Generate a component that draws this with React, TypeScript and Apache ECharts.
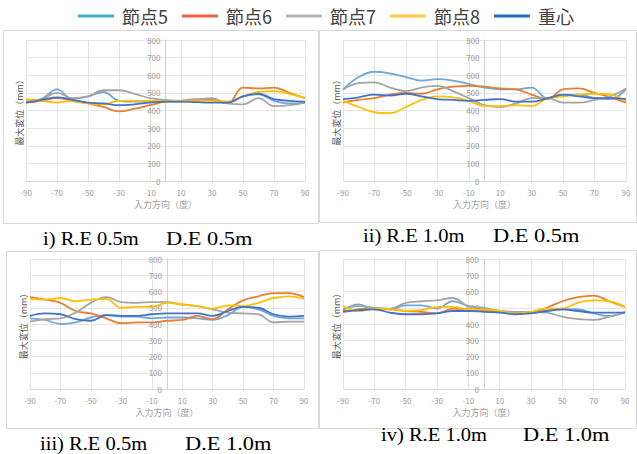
import React, { useEffect, useRef } from "react";
import * as echarts from "echarts";

// Input direction (degrees), shared by every panel
const ANGLES = [-90, -80, -70, -60, -50, -40, -30, -20, -10, 0, 10, 20, 30, 40, 50, 60, 70, 80, 90];

const SERIES_NAMES = ["節点5", "節点6", "節点7", "節点8", "重心"];
const LINE_COLORS = ["#6FA8DC", "#ED7D31", "#A5A5A5", "#FFC000", "#4472C4"];
const LEGEND_COLORS = ["#3FAFC7", "#F0623A", "#B4B4B4", "#FFC84D", "#1F6FC0"];

// Panel i) R.E 0.5m D.E 0.5m
const P1_N5 = [450, 465, 520, 465, 480, 505, 455, 450, 450, 450, 450, 455, 460, 445, 480, 492, 455, 440, 445];
const P1_N6 = [445, 455, 470, 455, 440, 420, 395, 410, 430, 450, 455, 465, 460, 440, 530, 525, 530, 500, 470];
const P1_N7 = [450, 465, 500, 470, 480, 515, 515, 495, 470, 460, 455, 462, 470, 440, 435, 470, 425, 430, 445];
const P1_N8 = [465, 455, 445, 455, 440, 435, 455, 455, 455, 455, 455, 455, 455, 450, 480, 505, 510, 495, 470];
const P1_G = [445, 460, 475, 460, 445, 440, 430, 435, 445, 450, 450, 447, 445, 445, 480, 495, 465, 455, 450];

// Panel ii) R.E 1.0m D.E 0.5m
const P2_N5 = [520, 590, 620, 610, 590, 570, 578, 570, 550, 530, 520, 520, 530, 470, 485, 490, 470, 465, 520];
const P2_N6 = [445, 460, 470, 490, 500, 495, 520, 535, 540, 535, 525, 520, 490, 465, 520, 525, 500, 475, 445];
const P2_N7 = [520, 555, 560, 530, 510, 530, 540, 510, 470, 430, 420, 440, 470, 470, 445, 445, 460, 480, 525];
const P2_N8 = [455, 420, 390, 385, 420, 460, 480, 475, 455, 425, 425, 430, 425, 470, 480, 490, 495, 490, 455];
const P2_G = [465, 475, 490, 485, 495, 480, 465, 460, 455, 460, 465, 450, 450, 470, 490, 480, 470, 470, 465];

// Panel iii) R.E 0.5m D.E 1.0m
const P3_N5 = [435, 425, 400, 410, 440, 455, 445, 445, 435, 440, 440, 435, 425, 455, 505, 490, 450, 435, 435];
const P3_N6 = [565, 550, 530, 480, 465, 435, 405, 410, 410, 420, 425, 450, 430, 490, 545, 570, 590, 590, 565];
const P3_N7 = [415, 430, 435, 470, 530, 565, 535, 530, 535, 535, 520, 510, 490, 470, 465, 460, 410, 415, 415];
const P3_N8 = [555, 550, 560, 540, 550, 555, 500, 505, 505, 530, 520, 510, 495, 515, 510, 530, 560, 570, 555];
const P3_G = [450, 465, 460, 430, 420, 455, 450, 450, 460, 465, 465, 465, 450, 480, 505, 500, 460, 445, 450];

// Panel iv) R.E 1.0m D.E 1.0m
const P4_N5 = [485, 520, 490, 490, 515, 515, 495, 540, 510, 490, 480, 470, 470, 480, 490, 490, 465, 450, 475];
const P4_N6 = [480, 490, 495, 490, 480, 475, 465, 495, 490, 485, 475, 470, 470, 500, 540, 565, 575, 540, 505];
const P4_N7 = [490, 510, 500, 495, 530, 540, 545, 560, 510, 500, 480, 475, 475, 470, 445, 430, 425, 445, 470];
const P4_N8 = [510, 480, 495, 490, 480, 485, 505, 505, 490, 490, 480, 465, 475, 495, 495, 530, 545, 540, 505];
const P4_G = [475, 485, 490, 470, 460, 460, 465, 480, 480, 475, 470, 460, 465, 480, 490, 480, 470, 470, 470];

const CAPTIONS = [
  ["i) R.E 0.5m", "D.E 0.5m"],
  ["ii) R.E 1.0m", "D.E 0.5m"],
  ["iii) R.E 0.5m", "D.E 1.0m"],
  ["iv) R.E 1.0m", "D.E 1.0m"],
];

const X_NAME = "入力方向（度）";
const Y_NAME = "最大変位（mm）";
const Y_MIN = 0;
const Y_MAX = 800;
const Y_STEP = 100;
const X_START = -90;
const X_END = 90;
const X_STEP = 20;

const PANEL_DATA = [
  [P1_N5, P1_N6, P1_N7, P1_N8, P1_G],
  [P2_N5, P2_N6, P2_N7, P2_N8, P2_G],
  [P3_N5, P3_N6, P3_N7, P3_N8, P3_G],
  [P4_N5, P4_N6, P4_N7, P4_N8, P4_G],
];

// layout (pixels)
const GRIDS = [
  { left: 26, top: 40, width: 279, height: 141 },
  { left: 343, top: 40, width: 283, height: 141 },
  { left: 30, top: 259, width: 274, height: 130 },
  { left: 343, top: 259, width: 282, height: 130 },
];
const BOXES = [
  { x: 3.5, y: 30.5, width: 315, height: 193 },
  { x: 319.5, y: 30.5, width: 317, height: 192 },
  { x: 6.5, y: 251.5, width: 312, height: 177 },
  { x: 319.5, y: 250.5, width: 317, height: 178 },
];
const CAPTION_POS = [
  { x1: 43, x2: 166, y: 238 },
  { x1: 363, x2: 493, y: 235 },
  { x1: 40, x2: 185, y: 443 },
  { x1: 381, x2: 523, y: 434 },
];

const FONT = "'Noto Sans CJK JP', 'Noto Sans', sans-serif";
const SERIF = "'Liberation Serif', 'Times New Roman', serif";

export default function App() {
  const ref = useRef<HTMLDivElement>(null);

  useEffect(() => {
    if (!ref.current) return;
    const chart = echarts.init(ref.current, null, { renderer: "svg" });

    const xAxes = GRIDS.map((g, i) => ({
      gridIndex: i,
      type: "value",
      min: 0,
      max: X_END - X_START,
      interval: X_STEP,
      axisLine: { show: true, onZero: false, lineStyle: { color: "#D9D9D9", width: 1 } },
      axisTick: { show: false },
      axisLabel: {
        color: "#9A9A9A",
        fontSize: 8,
        margin: 7,
        fontFamily: FONT,
        formatter: (v: number) => String(v + X_START),
      },
      splitLine: { show: true, lineStyle: { color: "#E4E4E4", width: 1 } },
      name: X_NAME,
      nameLocation: "middle",
      nameGap: 19,
      nameTextStyle: { color: "#A0A0A0", fontSize: 9, fontFamily: FONT },
    }));

    const yAxes = GRIDS.map((g, i) => ({
      gridIndex: i,
      type: "value",
      min: Y_MIN,
      max: Y_MAX,
      interval: Y_STEP,
      position: "left",
      offset: -g.width / 2,
      axisLine: { show: true, onZero: false, lineStyle: { color: "#D0D0D0", width: 1 } },
      axisTick: { show: false },
      axisLabel: { color: "#9A9A9A", fontSize: 8, margin: 5, fontFamily: FONT },
      splitLine: { show: true, lineStyle: { color: "#E4E4E4", width: 1 } },
      name: Y_NAME,
      nameLocation: "middle",
      nameGap: g.width / 2 + 2,
      nameTextStyle: { color: "#595959", fontSize: 9, fontFamily: FONT },
    }));

    const series: any[] = [];
    PANEL_DATA.forEach((panel, pi) => {
      panel.forEach((vals, si) => {
        series.push({
          name: SERIES_NAMES[si],
          type: "line",
          xAxisIndex: pi,
          yAxisIndex: pi,
          smooth: 0.4,
          showSymbol: false,
          symbol: "none",
          color: LINE_COLORS[si],
          lineStyle: { color: LINE_COLORS[si], width: 1.8 },
          data: ANGLES.map((a, k) => [a - X_START, vals[k]]),
          z: si === 4 ? 3 : 2,
        });
      });
    });

    const graphics: any[] = [];
    BOXES.forEach((b) => {
      graphics.push({
        type: "rect",
        shape: { x: b.x, y: b.y, width: b.width, height: b.height },
        style: { fill: "none", stroke: "#D9D9D9", lineWidth: 1 },
        z: 0,
      });
    });
    CAPTIONS.forEach((c, i) => {
      const p = CAPTION_POS[i];
      [c[0], c[1]].forEach((t, j) => {
        graphics.push({
          type: "text",
          x: j === 0 ? p.x1 : p.x2,
          y: p.y,
          scaleX: j === 0 ? 1.08 : 1.18,
          style: {
            text: t,
            fill: "#000000",
            fontSize: 19,
            fontFamily: SERIF,
            align: "left",
            verticalAlign: "middle",
          },
        });
      });
    });

    chart.setOption({
      animation: false,
      backgroundColor: "#FFFFFF",
      legend: {
        left: 73,
        top: 2,
        icon: "rect",
        itemWidth: 36,
        itemHeight: 3,
        itemGap: 14,
        textStyle: { fontSize: 18, color: "#404040", fontFamily: FONT, padding: [0, 0, 0, 3] },
        data: SERIES_NAMES.map((n, i) => ({ name: n, itemStyle: { color: LEGEND_COLORS[i] } })),
      },
      grid: GRIDS.map((g) => ({ ...g, containLabel: false })),
      xAxis: xAxes,
      yAxis: yAxes,
      series,
      graphic: graphics,
    });

    return () => chart.dispose();
  }, []);

  return (
    <div
      ref={ref}
      style={{ position: "absolute", left: 0, top: 0, width: 637, height: 454 }}
    />
  );
}
